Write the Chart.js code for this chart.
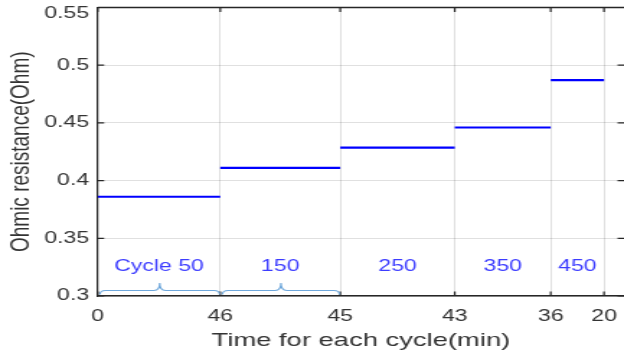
<!DOCTYPE html>
<html><head><meta charset="utf-8">
<script src="https://cdn.jsdelivr.net/npm/chart.js@4.4.1/dist/chart.umd.min.js"></script>
<style>html,body{margin:0;padding:0;background:#fff;overflow:hidden}
#c{display:block;width:624px;height:354px}</style></head>
<body><canvas id="c" width="433" height="354" style="width:624px;height:354px"></canvas>
<script>
// ---- data ----
const cycleLabels = ['Cycle 50', '150', '250', '350', '450'];
const cycleDurations = [46, 45, 43, 36, 20];          // minutes per cycle (x tick labels)
const ohmicResistance = [0.386, 0.411, 0.4285, 0.446, 0.487];
const yTickValues = [0.3, 0.35, 0.4, 0.45, 0.5, 0.55];
const yTickLabels = ['0.3', '0.35', '0.4', '0.45', '0.5', '0.55'];
const bracedCycles = [0, 1];
const xMin = 0, xMax = 197.5, yMin = 0.3, yMax = 0.55;

// cumulative cycle boundaries
const bounds = [0];
cycleDurations.forEach((d, i) => bounds.push(bounds[i] + d));
const xTickLabels = ['0'].concat(cycleDurations.map(String));

const FONT = '"Liberation Sans", Arial, Helvetica, sans-serif';
const lastY = yTickValues.length - 1;

const datasets = ohmicResistance.map((v, i) => ({
  data: [{x: bounds[i], y: v}, {x: bounds[i + 1], y: v}],
  borderColor: '#0000ff', borderWidth: 2.2, pointRadius: 0, showLine: true, fill: false
}));

const decor = {
  id: 'decor',
  beforeDraw(chart) {
    const c = chart.ctx; c.save(); c.fillStyle = '#fff'; c.fillRect(0, 0, chart.width, chart.height); c.restore();
  },
  afterDatasetsDraw(chart) {
    const {ctx, chartArea: a, scales: {x, y}} = chart;
    ctx.save();
    ctx.strokeStyle = '#262626';
    ctx.lineWidth = 1.6;
    ctx.beginPath(); ctx.moveTo(a.left, a.top); ctx.lineTo(a.right, a.top); ctx.stroke();
    ctx.lineWidth = 1.2;
    const tl = 4.5;
    x.ticks.forEach(t => {
      const px = x.getPixelForValue(t.value);
      ctx.beginPath();
      ctx.moveTo(px, a.bottom); ctx.lineTo(px, a.bottom - tl);
      ctx.moveTo(px, a.top); ctx.lineTo(px, a.top + tl);
      ctx.stroke();
    });
    y.ticks.forEach(t => {
      const py = y.getPixelForValue(t.value);
      ctx.beginPath();
      ctx.moveTo(a.left, py); ctx.lineTo(a.left + tl, py);
      ctx.moveTo(a.right, py); ctx.lineTo(a.right - tl, py);
      ctx.stroke();
    });
    // braces
    ctx.strokeStyle = '#6fa8dc'; ctx.lineWidth = 1.1;
    bracedCycles.forEach(i => {
      const x0 = x.getPixelForValue(bounds[i]) + 1.5, x1 = x.getPixelForValue(bounds[i + 1]) - 0.5, xm = (x0 + x1) / 2;
      const yb = a.bottom - 1.5, yl = a.bottom - 5.5, yt = a.bottom - 13, r = 4;
      ctx.beginPath();
      ctx.moveTo(x0, yb); ctx.quadraticCurveTo(x0, yl, x0 + r, yl); ctx.lineTo(xm - r, yl);
      ctx.quadraticCurveTo(xm, yl, xm, yt);
      ctx.moveTo(xm, yt); ctx.quadraticCurveTo(xm, yl, xm + r, yl);
      ctx.lineTo(x1 - r, yl); ctx.quadraticCurveTo(x1, yl, x1, yb);
      ctx.stroke();
    });
    // cycle labels
    ctx.fillStyle = '#3c3cff'; ctx.font = '16px ' + FONT; ctx.textAlign = 'center'; ctx.textBaseline = 'middle';
    cycleLabels.forEach((lab, i) => {
      const px = (x.getPixelForValue(bounds[i]) + x.getPixelForValue(bounds[i + 1])) / 2;
      ctx.fillText(lab, px, a.bottom - 29);
    });
    ctx.restore();
  }
};

new Chart(document.getElementById('c'), {
  type: 'scatter',
  data: {datasets},
  options: {
    responsive: false, animation: false, devicePixelRatio: 1,
    layout: {padding: {top: 7.5, right: 0, bottom: 0, left: 0}},
    plugins: {legend: {display: false}, tooltip: {enabled: false}},
    scales: {
      x: {
        type: 'linear', min: xMin, max: xMax,
        afterBuildTicks(s) { s.ticks = bounds.map(v => ({value: v})); },
        afterFit(s) { s.height = 58; s.paddingLeft = 0; s.paddingRight = 0; },
        ticks: {callback: (v, i) => xTickLabels[i], autoSkip: false, maxRotation: 0, padding: 11, color: '#333', font: {family: FONT, size: 16}},
        grid: {color: 'rgba(0,0,0,0.12)', drawTicks: false, lineWidth: 1},
        border: {display: true, color: '#262626', width: 1.6},
        title: {display: true, text: 'Time for each cycle(min)', color: '#333', font: {family: FONT, size: 19}, padding: {top: 0, bottom: 2}}
      },
      y: {
        type: 'linear', min: yMin, max: yMax,
        afterBuildTicks(s) { s.ticks = yTickValues.map(v => ({value: v})); },
        afterFit(s) { s.width = 67.8; s.paddingTop = 0; s.paddingBottom = 0; },
        ticks: {
          callback: (v, i) => i === lastY ? ['', yTickLabels[i]] : yTickLabels[i],
          autoSkip: false, padding: 6, color: '#333',
          font: ctx => ({family: FONT, size: 16, lineHeight: ctx.index === lastY ? 0.75 : 1.2})
        },
        grid: {color: 'rgba(0,0,0,0.12)', drawTicks: false, lineWidth: 1},
        border: {display: true, color: '#262626', width: 1.2},
        title: {display: true, text: 'Ohmic resistance(Ohm)', color: '#333', font: {family: FONT, size: 19}, padding: {top: 3, bottom: 0}}
      }
    }
  },
  plugins: [decor]
});
</script>
</body></html>
